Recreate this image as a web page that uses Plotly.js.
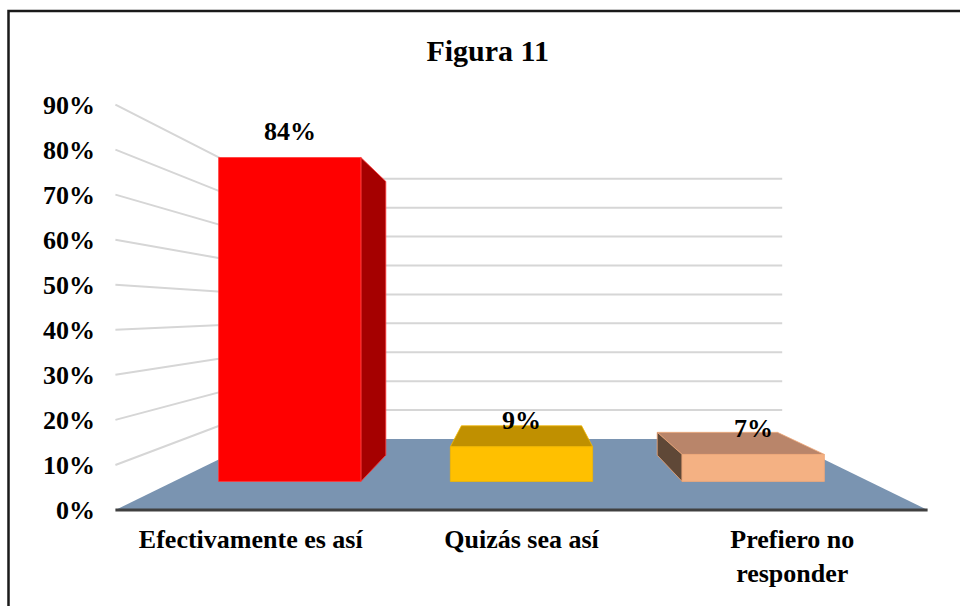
<!DOCTYPE html>
<html>
<head>
<meta charset="utf-8">
<script src="https://cdn.plot.ly/plotly-3.0.1.min.js"></script>
<style>
html,body{margin:0;padding:0;background:#ffffff;overflow:hidden}
#chart{width:960px;height:606px}
</style>
</head>
<body>
<div id="chart"></div>
<script>
// ---- data ----
const categories = ['Efectivamente es así', 'Quizás sea así', 'Prefiero no<br>responder'];
const values = [0.84, 0.09, 0.07];
const yTickVals = [0, 0.1, 0.2, 0.3, 0.4, 0.5, 0.6, 0.7, 0.8, 0.9];
const yTickText = ['0%', '10%', '20%', '30%', '40%', '50%', '60%', '70%', '80%', '90%'];
const titleText = 'Figura 11';

// ---- styles ----
const frontColors = ['#FF0000', '#FFC000', '#F4B183'];
const topColors   = ['#C00000', '#C09000', '#B9856A'];
const sideColors  = ['#A50000', '#9A7400', '#5F4837'];
const edgeColors  = ['#FF3B3B', '#F2B600', '#F0A878'];
const FONT = "'Times New Roman', 'Liberation Serif', serif";

// ---- 3D projection (one-point perspective, in axis units) ----
const VP = {x: 1, y: 0.44};      // vanishing point
const S_WALL_BACK = 0.642;        // depth scale of back wall
const S_BAR_FRONT = 0.856;        // depth scale of bars' front faces
const S_BAR_BACK = 0.7233;        // depth scale of bars' back faces
const HALF = 0.307;               // half bar width (category units)
const X0 = -0.5, X1 = 2.5;        // floor extent
function P(x, v, s) { return [VP.x + (x - VP.x) * s, VP.y + (v - VP.y) * s]; }

const traces = [];
function poly(pts, fill, line, lw) {
  const xs = pts.map(p => p[0]); const ys = pts.map(p => p[1]);
  xs.push(xs[0]); ys.push(ys[0]);
  traces.push({type: 'scatter', mode: 'lines', x: xs, y: ys, fill: 'toself',
    fillcolor: fill, line: {color: line || fill, width: lw == null ? 0.8 : lw},
    hoverinfo: 'skip', showlegend: false});
}

// gridlines on side and back walls
const gx = [], gy = [];
yTickVals.forEach(v => {
  if (v === 0) return;
  const a = [X0, v], b = P(X0, v, S_WALL_BACK), c = P(X1, v, S_WALL_BACK);
  gx.push(a[0], b[0], c[0], null); gy.push(a[1], b[1], c[1], null);
});
traces.push({type: 'scatter', mode: 'lines', x: gx, y: gy, line: {color: '#D6D6D6', width: 2},
  hoverinfo: 'skip', showlegend: false});

// floor
poly([P(X0, 0, 1), P(X1, 0, 1), P(X1, 0, S_WALL_BACK), P(X0, 0, S_WALL_BACK)], '#7A94B1', '#7A94B1', 0);
// front edge of floor
traces.push({type: 'scatter', mode: 'lines', x: [X0, X1], y: [0, 0], line: {color: '#404040', width: 3},
  hoverinfo: 'skip', showlegend: false});

// bars
const annotations = [];
values.forEach((v, i) => {
  const xl = i - HALF, xr = i + HALF;
  const fl = P(xl, 0, S_BAR_FRONT), fr = P(xr, 0, S_BAR_FRONT);
  const tl = P(xl, v, S_BAR_FRONT), tr = P(xr, v, S_BAR_FRONT);
  const btl = P(xl, v, S_BAR_BACK), btr = P(xr, v, S_BAR_BACK);
  const bbl = P(xl, 0, S_BAR_BACK), bbr = P(xr, 0, S_BAR_BACK);
  if (tl[1] < VP.y) poly([tl, tr, btr, btl], topColors[i], edgeColors[i]);
  if (fr[0] < VP.x) poly([fr, tr, btr, bbr], sideColors[i], edgeColors[i]);
  if (fl[0] > VP.x) poly([fl, tl, btl, bbl], sideColors[i], edgeColors[i]);
  poly([fl, fr, tr, tl], frontColors[i], edgeColors[i]);
  const c = P(i, v, S_BAR_FRONT);
  annotations.push({x: c[0], y: c[1], xref: 'x', yref: 'y', text: Math.round(v * 100) + '%',
    showarrow: false, yshift: 26, yanchor: 'middle', xanchor: 'center',
    font: {family: FONT, size: 26, color: '#000000', weight: 'bold'}});
});

const layout = {
  width: 960, height: 606, autosize: false,
  paper_bgcolor: '#ffffff', plot_bgcolor: 'rgba(0,0,0,0)',
  margin: {l: 110, r: 27, t: 82, b: 87, pad: 0},
  showlegend: false,
  title: {text: '<b>' + titleText + '</b>', x: 0.508, xanchor: 'center', y: 1 - 50 / 606, yanchor: 'middle',
    font: {family: FONT, size: 30, color: '#000000'}},
  xaxis: {range: [-0.52, 2.52], tickvals: [0, 1, 2], ticktext: categories, showgrid: false, zeroline: false,
    showline: false, ticks: '', ticklabelstandoff: 2, fixedrange: true,
    tickfont: {family: FONT, size: 26, color: '#000000', weight: 'bold'}},
  yaxis: {range: [-0.02, 0.95], tickvals: yTickVals, ticktext: yTickText, showgrid: false, zeroline: false,
    showline: false, ticks: '', ticklabelstandoff: 14, fixedrange: true,
    tickfont: {family: FONT, size: 26, color: '#000000', weight: 'bold'}},
  annotations: annotations,
  shapes: [{type: 'rect', xref: 'paper', yref: 'paper', x0: (8.5 - 110) / 823, x1: 1.2,
    y0: -0.4, y1: (519 - 11) / 437, line: {color: '#1a1a1a', width: 2.5}, fillcolor: 'rgba(0,0,0,0)', layer: 'above'}]
};

Plotly.newPlot('chart', traces, layout, {displayModeBar: false, staticPlot: true});
</script>
</body>
</html>
